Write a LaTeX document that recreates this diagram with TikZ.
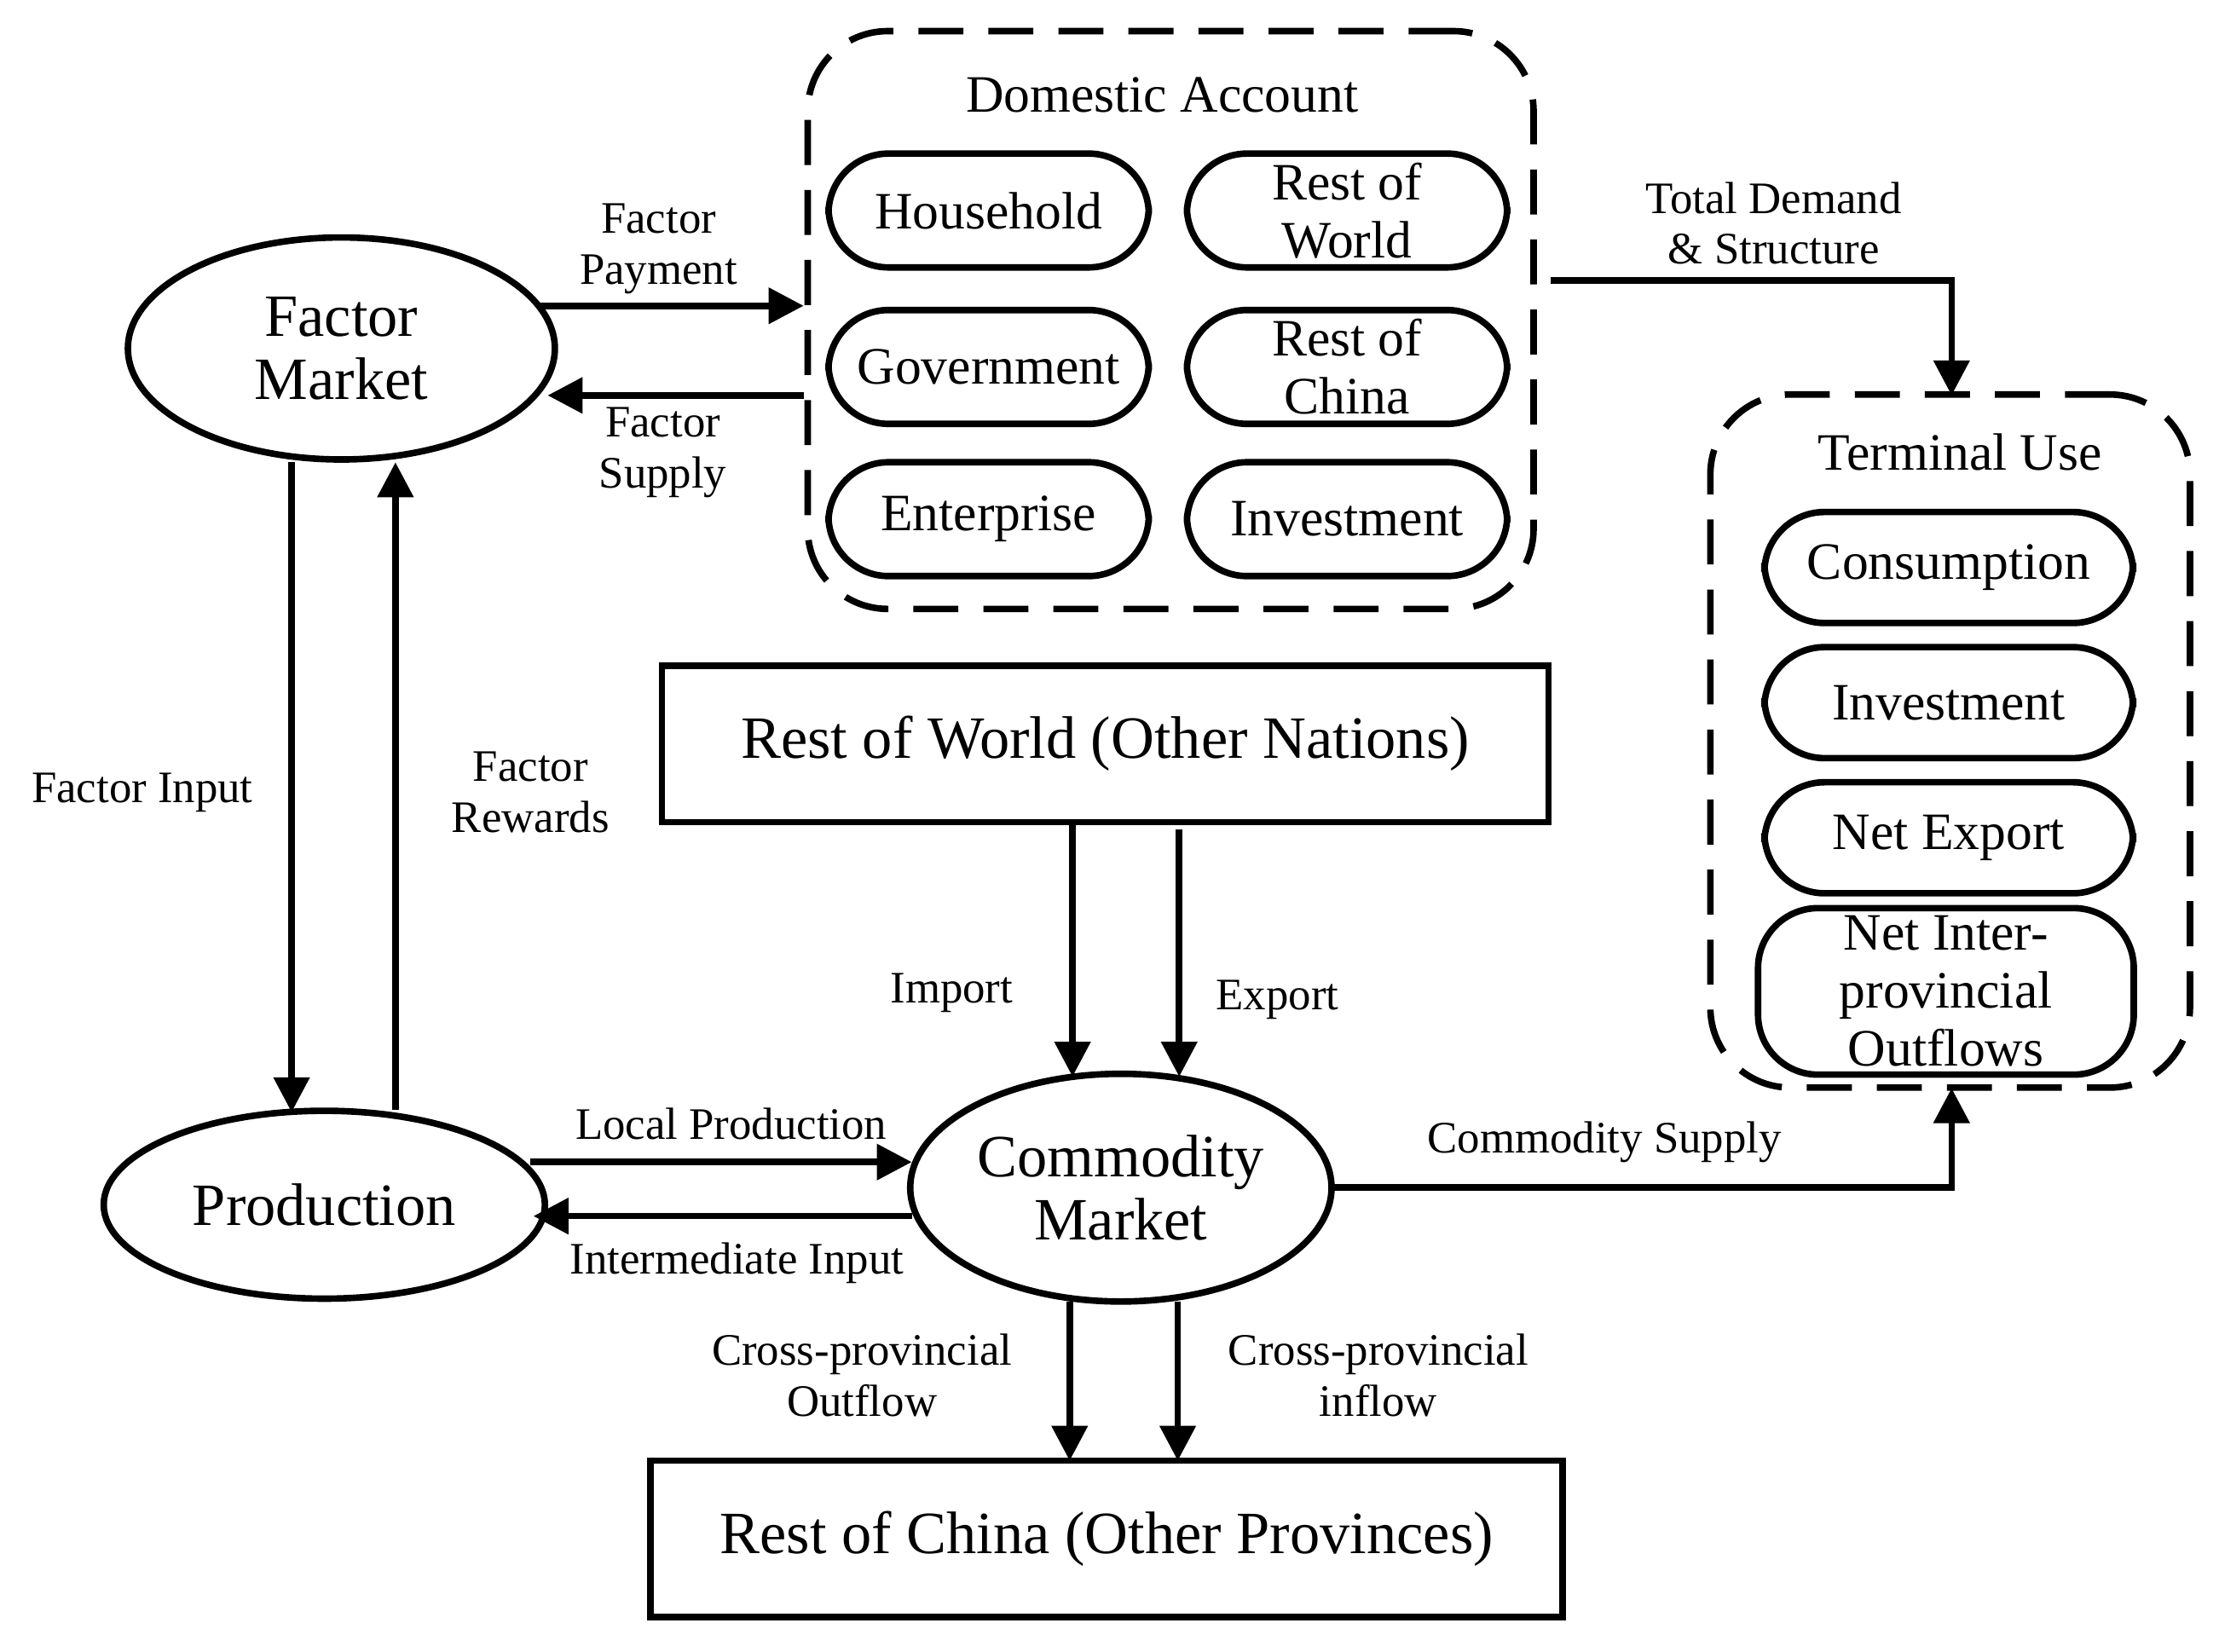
\documentclass[tikz,border=0pt]{standalone}
\usepackage{fontspec}
\setmainfont{Liberation Serif}
\usetikzlibrary{arrows.meta,shapes.geometric}
\begin{document}
\begin{tikzpicture}[x=0.01cm,y=-0.01cm,
 lw/.style={line width=1.3pt},
 arr/.style={lw,-{Triangle[length=7pt,width=7pt]}},
 lab/.style={font=\fontsize{9}{10.2}\selectfont,align=center},
 rbox/.style={lw,draw,rounded corners=12pt,minimum width=2.25cm,minimum height=0.8cm,align=center,font=\fontsize{10.5}{11.6}\selectfont,inner sep=1pt},
 dbox/.style={lw,draw,dashed,dash pattern=on 9pt off 5pt,rounded corners=16pt},
 ell/.style={lw,draw,ellipse,align=center,font=\fontsize{12}{12.6}\selectfont,inner sep=0pt},
 big/.style={lw,draw,font=\fontsize{12}{14}\selectfont}]
\useasboundingbox (0,0) rectangle (1560,1161);
% Domestic account
\node[dbox,minimum width=5.1cm,minimum height=4.06cm] (da) at (823,225) {};
\node[font=\fontsize{10.5}{12}\selectfont] (dat) at (817,67) {Domestic Account};
\node[rbox] (hh) at (695,148) {Household};
\node[rbox] (rw) at (947,148) {Rest of\\World};
\node[rbox] (gov) at (695,258) {Government};
\node[rbox] (rc) at (947,258) {Rest of\\China};
\node[rbox] (ent) at (695,365) {Enterprise};
\node[rbox] (inv) at (947,365) {Investment};
% Terminal use
\node[dbox,minimum width=3.37cm,minimum height=4.87cm] (tu) at (1371,521) {};
\node[font=\fontsize{10.5}{12}\selectfont] (tut) at (1378,318) {Terminal Use};
\node[rbox,minimum width=2.59cm,minimum height=0.78cm] (con) at (1370,399) {Consumption};
\node[rbox,minimum width=2.59cm,minimum height=0.78cm] (inv2) at (1370,494) {Investment};
\node[rbox,minimum width=2.59cm,minimum height=0.78cm] (nx) at (1370,589) {Net Export};
\node[rbox,minimum width=2.64cm,minimum height=1.17cm] (nio) at (1368,697) {Net Inter-\\provincial\\Outflows};
% ellipses
\node[ell,minimum width=3.0cm,minimum height=1.56cm] (fm) at (240,245) {Factor\\Market};
\node[ell,minimum width=3.1cm,minimum height=1.32cm] (pr) at (228,847) {Production};
\node[ell,minimum width=2.96cm,minimum height=1.6cm] (cm) at (788,835) {Commodity\\Market};
\node[big,minimum width=6.23cm,minimum height=1.1cm] (row) at (777,523) {Rest of World (Other Nations)};
\node[big,minimum width=6.41cm,minimum height=1.1cm] (roc) at (778,1082) {Rest of China (Other Provinces)};
% coordinates
\coordinate (a1) at (380,215); \coordinate (a2) at (565,215);
\coordinate (b1) at (565,278); \coordinate (b2) at (385,278);
\coordinate (c1) at (205,325); \coordinate (c2) at (205,782);
\coordinate (d1) at (278,780); \coordinate (d2) at (278,325);
\coordinate (e1) at (1090,197); \coordinate (e2) at (1372,278);
\coordinate (f1) at (754,580); \coordinate (f2) at (754,757);
\coordinate (g1) at (829,583); \coordinate (g2) at (829,757);
\coordinate (h1) at (373,817); \coordinate (h2) at (641,817);
\coordinate (i1) at (641,855); \coordinate (i2) at (375,855);
\coordinate (j1) at (936,835); \coordinate (j2) at (1372,765);
\coordinate (k1) at (752,915); \coordinate (k2) at (752,1027);
\coordinate (l1) at (828,915); \coordinate (l2) at (828,1027);
\draw[arr] (a1) -- (a2);
\draw[arr] (b1) -- (b2);
\draw[arr] (c1) -- (c2);
\draw[arr] (d1) -- (d2);
\draw[arr] (e1) -| (e2);
\draw[arr] (f1) -- (f2);
\draw[arr] (g1) -- (g2);
\draw[arr] (h1) -- (h2);
\draw[arr] (i1) -- (i2);
\draw[arr] (j1) -| (j2);
\draw[arr] (k1) -- (k2);
\draw[arr] (l1) -- (l2);
% labels
\node[lab] (t1) at (463,175) {Factor\\Payment};
\node[lab] (t2) at (466,318) {Factor\\Supply};
\node[lab] (t3) at (100,557) {Factor Input};
\node[lab] (t4) at (373,557) {Factor\\Rewards};
\node[lab] (t5) at (1247,157) {Total Demand\\\& Structure};
\node[lab] (t6) at (669,698) {Import};
\node[lab] (t7) at (898,703) {Export};
\node[lab] (t8) at (514,790) {Local Production};
\node[lab] (t9) at (518,888) {Intermediate Input};
\node[lab] (t10) at (1128,803) {Commodity Supply};
\node[lab] (t11) at (606,967) {Cross-provincial\\Outflow};
\node[lab] (t12) at (969,967) {Cross-provincial\\inflow};
\end{tikzpicture}
\end{document}
